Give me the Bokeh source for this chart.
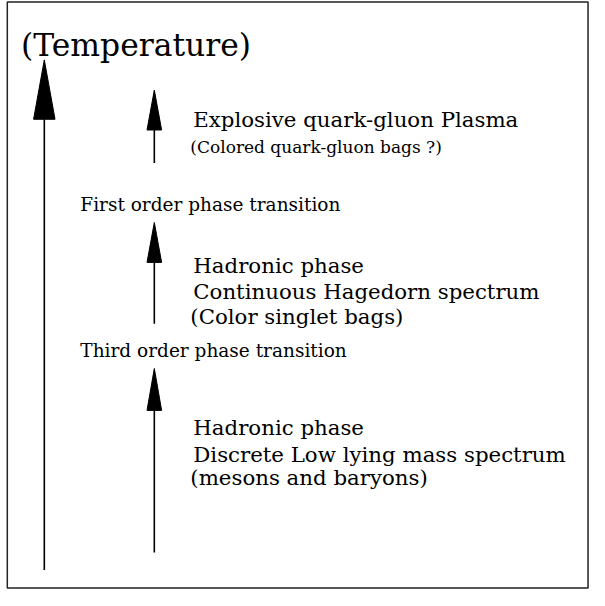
from bokeh.plotting import figure
from bokeh.models import Range1d, ColumnDataSource
from bokeh.core.properties import value
from bokeh.embed import file_html
from bokeh.resources import INLINE

# ---- diagram data (reference pixel space, y grows downward) ----
arrow_x = [45, 158, 158, 158]
arrow_tail = [585, 167, 332, 567]
arrow_tip = [61, 92, 228, 378]
arrow_head_len = [61, 41, 41, 43]
arrow_head_half = [11, 7.5, 7.5, 7.5]

labels = [
    "(Temperature)",
    "Explosive quark-gluon Plasma",
    "(Colored quark-gluon bags ?)",
    "First order phase transition",
    "Hadronic phase",
    "Continuous Hagedorn spectrum",
    "(Color singlet bags)",
    "Third order phase transition",
    "Hadronic phase",
    "Discrete Low lying mass spectrum",
    "(mesons and baryons)",
]
label_x = [21, 198, 195, 82, 198, 198, 195, 82, 198, 198, 195]
label_y = [46, 122, 150, 210, 272, 299, 325, 360, 439, 466, 490]
label_pt = [31.4, 21.3, 17.0, 18.5, 21.3, 21.3, 21.3, 18.5, 21.3, 21.3, 21.3]

FONT = "DejaVu Serif"
REF_W, REF_H = 605, 606

W, H = 589, 590
p = figure(width=W, height=H, x_range=Range1d(0, REF_W), y_range=Range1d(REF_H, 0),
           output_backend="svg", toolbar_location=None, min_border=0)
p.axis.visible = False
p.grid.visible = False
p.outline_line_color = None
p.background_fill_color = "white"
p.border_fill_color = "white"

# frame box
p.quad(left=[7], right=[603.5], top=[1.5], bottom=[603.5], fill_color=None,
       line_color="#222222", line_width=1.5)

# shafts
p.segment(x0=arrow_x, y0=arrow_tail, x1=arrow_x,
          y1=[t + h for t, h in zip(arrow_tip, arrow_head_len)],
          line_color="black", line_width=1.6)
# heads
xs = [[x - w, x, x + w] for x, w in zip(arrow_x, arrow_head_half)]
ys = [[t + h, t, t + h] for t, h in zip(arrow_tip, arrow_head_len)]
p.patches(xs=xs, ys=ys, fill_color="black", line_color="black", line_width=1)

src = ColumnDataSource(dict(x=label_x, y=label_y, text=labels,
                            size=[f"{s}px" for s in label_pt]))
p.text(x="x", y="y", text="text", source=src, text_font=value(FONT),
       text_font_size="size", text_baseline="alphabetic", text_align="left",
       text_color="black")

open("out.html", "w").write(file_html(p, INLINE))
